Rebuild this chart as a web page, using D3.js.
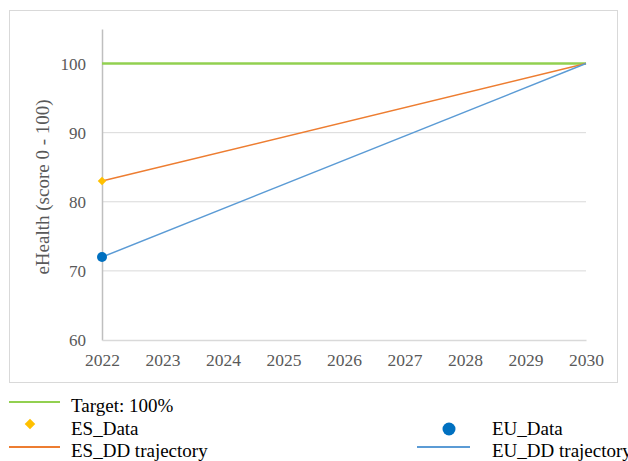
<!DOCTYPE html>
<html>
<head>
<meta charset="utf-8">
<script src="https://cdn.jsdelivr.net/npm/d3@7"></script>
</head>
<body style="margin:0">
<svg id="chart" width="628" height="461"></svg>
<script>
// Years on the horizontal axis
const years = [2022, 2023, 2024, 2025, 2026, 2027, 2028, 2029, 2030];
// Target level across the whole period
const targetValues = [[2022, 100], [2030, 100]];
// Spain: observed value and linear trajectory to the target
const esData = [[2022, 83]];
const esTrajectory = [[2022, 83], [2030, 100]];
// EU: observed value and linear trajectory to the target
const euData = [[2022, 72]];
const euTrajectory = [[2022, 72], [2030, 100]];
// Vertical axis ticks
const yTicks = [60, 70, 80, 90, 100];

const FONT = '"Liberation Serif"';
const svg = d3.select("#chart").style("font-family", FONT);

// Outer chart frame
svg.append("rect")
  .attr("x", 9.5).attr("y", 10.5)
  .attr("width", 608).attr("height", 372)
  .attr("fill", "#fff").attr("stroke", "#d9d9d9");

const x = d3.scaleLinear().domain([2022, 2030]).range([102, 586]);
const y = d3.scaleLinear().domain([60, 105]).range([340, 29]);

// Gridlines
svg.append("g")
  .selectAll("line")
  .data(yTicks.filter(d => d > 60))
  .join("line")
  .attr("x1", x(2022)).attr("x2", x(2030))
  .attr("y1", d => y(d)).attr("y2", d => y(d))
  .attr("stroke", "#d9d9d9").attr("stroke-width", 1);

// Y axis
const yAxis = svg.append("g")
  .attr("transform", `translate(${x(2022)},0)`)
  .call(d3.axisLeft(y).tickValues(yTicks).tickSize(0).tickPadding(16))
  .attr("font-family", FONT).attr("font-size", 17);
yAxis.select(".domain").attr("stroke", "#bfbfbf").attr("stroke-width", 1.5);
yAxis.selectAll("text").attr("fill", "#595959");

// X axis
const xAxis = svg.append("g")
  .attr("transform", `translate(0,${y(60)})`)
  .call(d3.axisBottom(x).tickValues(years).tickFormat(d3.format("d")).tickSize(0).tickPadding(14))
  .attr("font-family", FONT).attr("font-size", 17.5);
xAxis.select(".domain").attr("stroke", "#d9d9d9").attr("stroke-width", 1.5);
xAxis.selectAll("text").attr("fill", "#595959");

// Y axis title
svg.append("text")
  .attr("transform", "translate(45,187) rotate(-90)")
  .attr("text-anchor", "middle").attr("dominant-baseline", "middle")
  .attr("font-family", FONT).attr("font-size", 19).attr("fill", "#595959")
  .text("eHealth (score 0 - 100)");

const line = d3.line().x(d => x(d[0])).y(d => y(d[1]));

svg.append("path").datum(targetValues).attr("d", line)
  .attr("fill", "none").attr("stroke", "#92D050").attr("stroke-width", 2.5);
svg.append("path").datum(esTrajectory).attr("d", line)
  .attr("fill", "none").attr("stroke", "#ED7D31").attr("stroke-width", 1.5);
svg.append("path").datum(euTrajectory).attr("d", line)
  .attr("fill", "none").attr("stroke", "#5B9BD5").attr("stroke-width", 1.5);

// Point markers
svg.append("g").selectAll("path").data(esData).join("path")
  .attr("d", d3.symbol().type(d3.symbolSquare).size(36)())
  .attr("transform", d => `translate(${x(d[0])},${y(d[1])}) rotate(45)`)
  .attr("fill", "#FFC000");

svg.append("g").selectAll("circle").data(euData).join("circle")
  .attr("cx", d => x(d[0])).attr("cy", d => y(d[1])).attr("r", 5)
  .attr("fill", "#0070C0");

// Legend
const legend = svg.append("g");
function legendLine(x1, x2, yy, color) {
  legend.append("line").attr("x1", x1).attr("x2", x2).attr("y1", yy).attr("y2", yy)
    .attr("stroke", color).attr("stroke-width", 2);
}
function legendText(tx, yy, t) {
  legend.append("text").attr("x", tx).attr("y", yy)
    .attr("font-family", FONT).attr("font-size", 19).attr("fill", "#000").text(t);
}
legendLine(9, 60, 402, "#92D050");
legendText(71, 412, "Target: 100%");
legend.append("path")
  .attr("d", d3.symbol().type(d3.symbolSquare).size(56)())
  .attr("transform", "translate(30,424) rotate(45)").attr("fill", "#FFC000");
legendText(71, 435, "ES_Data");
legendLine(9, 60, 447, "#ED7D31");
legendText(71, 457, "ES_DD trajectory");
legend.append("circle").attr("cx", 449).attr("cy", 429).attr("r", 6.5).attr("fill", "#0070C0");
legendText(492, 435, "EU_Data");
legendLine(417, 470, 447, "#5B9BD5");
legendText(492, 457, "EU_DD trajectory");
</script>
</body>
</html>
